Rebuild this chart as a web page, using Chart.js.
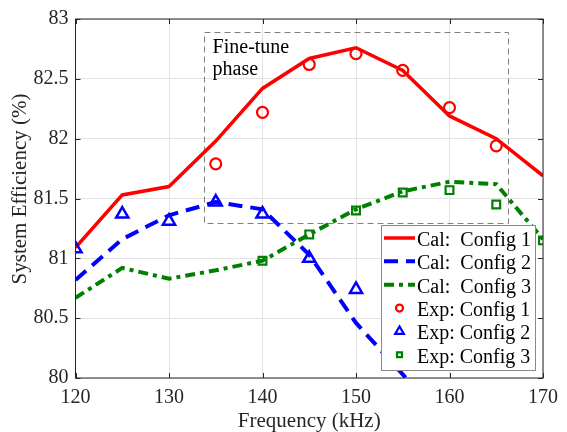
<!DOCTYPE html>
<html><head><meta charset="utf-8">
<script src="https://cdn.jsdelivr.net/npm/chart.js@4"></script>
<style>html,body{margin:0;padding:0;background:#fff}</style>
</head><body>
<canvas id="c" width="567" height="432"></canvas>
<script>
// ---- data ----
const frequency = [120, 125, 130, 135, 140, 145, 150, 155, 160, 165, 170];
const calConfig1 = [81.09, 81.53, 81.60, 81.98, 82.42, 82.67, 82.76, 82.57, 82.19, 82.00, 81.69];
const calConfig2Freq = [120, 125, 130, 135, 140, 145, 150, 155, 160];
const calConfig2 = [80.82, 81.16, 81.36, 81.47, 81.41, 81.03, 80.46, 80.03, 79.60];
const calConfig3 = [80.67, 80.92, 80.83, 80.90, 80.98, 81.20, 81.41, 81.56, 81.64, 81.62, 81.16];
const expFreq1 = [135, 140, 145, 150, 155, 160, 165];
const expConfig1 = [81.79, 82.22, 82.62, 82.71, 82.57, 82.26, 81.94];
const expFreq2 = [120, 125, 130, 135, 140, 145, 150];
const expConfig2 = [81.08, 81.37, 81.31, 81.47, 81.37, 81.00, 80.74];
const expFreq3 = [140, 145, 150, 155, 160, 165, 170];
const expConfig3 = [80.98, 81.20, 81.40, 81.55, 81.57, 81.45, 81.15];
const xTicks = [120, 130, 140, 150, 160, 170];
const yTicks = [80, 80.5, 81, 81.5, 82, 82.5, 83];
const fineTuneX = [133.7, 166.2];
const fineTuneY = [81.29, 82.89];
const fineTuneLabel = ['Fine-tune', 'phase'];
const seriesLabels = ['Cal:  Config 1', 'Cal:  Config 2', 'Cal:  Config 3', 'Exp: Config 1', 'Exp: Config 2', 'Exp: Config 3'];
const xTitle = 'Frequency (kHz)';
const yTitle = 'System Efficiency (%)';

const FONT = '"Liberation Serif", "Times New Roman", serif';
const RED = '#ff0000', BLUE = '#0000ff', GREEN = '#008000';
const pts = (xs, ys) => xs.map((x, i) => ({x: x, y: ys[i]}));

const calStyle = [
  {color: RED, dash: [], width: 3.5},
  {color: BLUE, dash: [14, 8], width: 4},
  {color: GREEN, dash: [10, 5, 4, 5], width: 4}
];
const expStyle = [
  {color: RED, style: 'circle', r: 5.5, w: 2.2},
  {color: BLUE, style: 'triangle', r: 7, w: 2.5},
  {color: GREEN, style: 'rect', r: 5.5, w: 2.2}
];

const datasets = [
  {data: pts(frequency, calConfig1)},
  {data: pts(calConfig2Freq, calConfig2)},
  {data: pts(frequency, calConfig3)}
].map((d, i) => Object.assign(d, {
  label: seriesLabels[i], showLine: true, borderColor: calStyle[i].color,
  borderWidth: calStyle[i].width, borderDash: calStyle[i].dash, pointRadius: 0,
  fill: false, tension: 0, order: 2 + i, borderCapStyle: 'butt', borderJoinStyle: 'miter'
})).concat([
  {data: pts(expFreq1, expConfig1)},
  {data: pts(expFreq2, expConfig2)},
  {data: pts(expFreq3, expConfig3)}
].map((d, i) => Object.assign(d, {
  label: seriesLabels[3 + i], showLine: false, pointStyle: expStyle[i].style,
  pointRadius: expStyle[i].r, pointBorderWidth: expStyle[i].w,
  borderColor: expStyle[i].color, pointBorderColor: expStyle[i].color,
  backgroundColor: 'rgba(0,0,0,0)', pointBackgroundColor: 'rgba(0,0,0,0)', order: 0
})));

function drawMarker(ctx, style, x, y, r, color, w) {
  ctx.save();
  ctx.strokeStyle = color; ctx.lineWidth = w; ctx.setLineDash([]);
  ctx.beginPath();
  if (style === 'circle') ctx.arc(x, y, r, 0, Math.PI * 2);
  else if (style === 'triangle') {
    for (let k = 0; k < 3; k++) {
      const a = k * 2 * Math.PI / 3;
      const px = x + Math.sin(a) * r, py = y - Math.cos(a) * r;
      k === 0 ? ctx.moveTo(px, py) : ctx.lineTo(px, py);
    }
    ctx.closePath();
  } else {
    const s = r * Math.SQRT1_2;
    ctx.rect(x - s, y - s, 2 * s, 2 * s);
  }
  ctx.stroke();
  ctx.restore();
}

const decor = {
  id: 'decor',
  beforeDatasetsDraw(chart) {
    const {ctx, scales: {x, y}} = chart;
    ctx.save();
    ctx.strokeStyle = '#7f7f7f'; ctx.lineWidth = 1; ctx.setLineDash([6, 4]);
    const x0 = x.getPixelForValue(fineTuneX[0]), x1 = x.getPixelForValue(fineTuneX[1]);
    const y0 = y.getPixelForValue(fineTuneY[1]), y1 = y.getPixelForValue(fineTuneY[0]);
    ctx.strokeRect(Math.round(x0) + 0.5, Math.round(y0) + 0.5, Math.round(x1 - x0), Math.round(y1 - y0));
    ctx.setLineDash([]);
    ctx.fillStyle = '#000'; ctx.font = '20px ' + FONT; ctx.textAlign = 'left'; ctx.textBaseline = 'alphabetic';
    ctx.fillText(fineTuneLabel[0], x0 + 9, y0 + 20.5);
    ctx.fillText(fineTuneLabel[1], x0 + 9, y0 + 43);
    ctx.restore();
  },
  afterDraw(chart) {
    const {ctx, chartArea: a, scales: {x, y}} = chart;
    ctx.save();
    // axes box and inward ticks
    ctx.strokeStyle = '#262626'; ctx.lineWidth = 1; ctx.setLineDash([]);
    ctx.strokeRect(a.left, a.top, a.right - a.left, a.bottom - a.top);
    ctx.beginPath();
    xTicks.forEach(v => {
      const px = Math.round(x.getPixelForValue(v)) + 0.5;
      ctx.moveTo(px, a.bottom); ctx.lineTo(px, a.bottom - 5);
      ctx.moveTo(px, a.top); ctx.lineTo(px, a.top + 5);
    });
    yTicks.forEach(v => {
      const py = Math.round(y.getPixelForValue(v)) + 0.5;
      ctx.moveTo(a.left, py); ctx.lineTo(a.left + 5, py);
      ctx.moveTo(a.right, py); ctx.lineTo(a.right - 5, py);
    });
    ctx.stroke();
    // axis titles
    ctx.fillStyle = '#262626'; ctx.font = '21px ' + FONT;
    ctx.textAlign = 'center'; ctx.textBaseline = 'alphabetic';
    ctx.fillText(xTitle, (a.left + a.right) / 2, 426.5);
    ctx.save();
    ctx.translate(26.3, 189);
    ctx.rotate(-Math.PI / 2);
    ctx.fillText(yTitle, 0, 0);
    ctx.restore();
    // legend
    const lx = 381.5, ly = 225.5, lw = 154, lh = 145;
    ctx.fillStyle = '#fff'; ctx.fillRect(lx, ly, lw, lh);
    ctx.strokeStyle = '#8a8a8a'; ctx.lineWidth = 1; ctx.strokeRect(lx, ly, lw, lh);
    ctx.font = '20px ' + FONT; ctx.textAlign = 'left'; ctx.fillStyle = '#000';
    for (let i = 0; i < 6; i++) {
      const base = 246 + i * 23.35, cy = base - 8;
      if (i < 3) {
        const s = calStyle[i];
        ctx.save();
        ctx.strokeStyle = s.color; ctx.lineWidth = s.width; ctx.setLineDash(s.dash);
        ctx.beginPath(); ctx.moveTo(384, cy); ctx.lineTo(415, cy); ctx.stroke();
        ctx.restore();
      } else {
        const s = expStyle[i - 3];
        drawMarker(ctx, s.style, 399.5, cy, s.style === 'triangle' ? 5 : 3.5, s.color, 2.2);
      }
      ctx.fillStyle = '#000';
      ctx.fillText(seriesLabels[i], 417, base);
    }
    ctx.restore();
  }
};

new Chart(document.getElementById('c'), {
  type: 'scatter',
  data: {datasets: datasets},
  options: {
    responsive: false, animation: false, devicePixelRatio: 1,
    layout: {padding: {top: 14, right: 24, left: 0, bottom: 0}},
    plugins: {legend: {display: false}, tooltip: {enabled: false}},
    scales: {
      x: {
        type: 'linear', min: 120, max: 170,
        afterBuildTicks: s => { s.ticks = xTicks.map(v => ({value: v})); },
        afterFit: s => { s.height = 54; },
        ticks: {color: '#262626', font: {family: FONT, size: 20}, padding: 8, maxRotation: 0},
        grid: {color: '#e2e2e2', lineWidth: 1, drawTicks: false},
        border: {display: false}
      },
      y: {
        type: 'linear', min: 80, max: 83,
        afterBuildTicks: s => { s.ticks = yTicks.map(v => ({value: v})); },
        afterFit: s => { s.width = 75.5; },
        ticks: {color: '#262626', font: {family: FONT, size: 20}, padding: 7, callback: v => String(v)},
        grid: {color: '#e2e2e2', lineWidth: 1, drawTicks: false},
        border: {display: false}
      }
    }
  },
  plugins: [decor]
});
</script>
</body></html>
